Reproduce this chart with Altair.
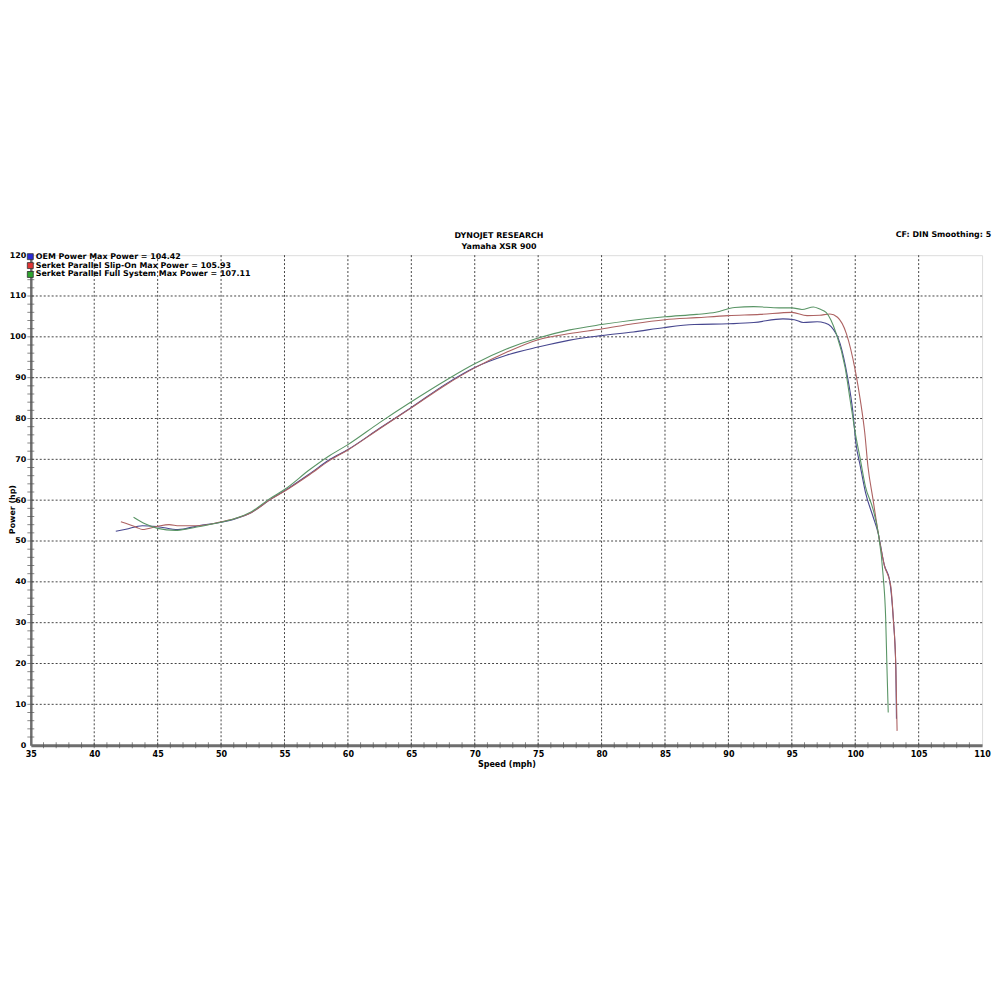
import altair as alt
import pandas as pd

# ---- data ----
oem_speed = [41.7, 42.5, 43.8, 45.0, 46.6, 48.2, 50.0, 51.1, 52.4, 53.9, 55.0, 57.0, 58.6, 60.0,
             62.5, 65.0, 67.8, 70.0, 72.5, 75.0, 77.5, 80.0, 82.5, 85.0, 87.3, 90.0, 92.0, 94.3,
             95.2, 95.9, 97.0, 97.6, 98.1, 98.8, 99.4, 99.8, 100.05, 100.4, 100.8, 101.4, 101.8,
             102.3, 102.7, 103.0, 103.2, 103.25]
oem_power = [52.4, 52.9, 53.75, 53.5, 52.8, 53.75, 54.6, 55.4, 57.0, 60.2, 62.3, 66.5, 70.0, 72.4,
             77.6, 82.7, 88.6, 92.5, 95.5, 97.5, 99.2, 100.3, 101.2, 102.3, 103.0, 103.2, 103.5, 104.4,
             104.2, 103.5, 103.7, 103.4, 102.5, 98.4, 90.0, 82.0, 74.0, 68.3, 62.0, 56.0, 52.0,
             44.0, 40.5, 31.0, 19.0, 6.5]

slip_speed = [42.1, 43.3, 43.8, 45.0, 45.9, 46.7, 48.2, 50.0, 51.1, 52.4, 53.9, 55.0, 57.0, 58.6,
              60.0, 62.5, 65.0, 67.8, 70.0, 72.5, 75.0, 77.5, 80.0, 82.5, 85.0, 87.5, 90.0, 92.5,
              95.0, 96.2, 97.2, 98.0, 98.6, 99.3, 100.0, 100.4, 100.75, 101.0, 101.4, 101.8, 102.3,
              102.8, 103.0, 103.2, 103.3]
slip_power = [54.7, 53.4, 52.8, 53.6, 54.0, 53.75, 53.75, 54.7, 55.5, 57.0, 60.2, 62.2, 66.3, 69.8,
              72.3, 77.5, 82.6, 88.4, 92.4, 96.2, 99.3, 100.8, 101.9, 103.2, 104.2, 104.7, 105.2, 105.5,
              106.0, 105.2, 105.3, 105.6, 104.8, 100.8, 91.8, 84.5, 76.5, 68.3, 60.2, 52.2, 44.0,
              39.0, 31.0, 19.0, 3.5]

full_speed = [43.1, 44.0, 45.0, 46.4, 47.4, 48.2, 50.0, 51.1, 52.4, 53.9, 55.0, 57.0, 58.6, 60.0,
              62.5, 65.0, 67.8, 70.0, 72.5, 75.0, 77.5, 80.0, 82.3, 85.0, 87.5, 89.0, 90.5, 92.0,
              94.0, 95.0, 95.8, 96.7, 97.2, 97.7, 98.5, 99.2, 99.6, 100.0, 100.4, 100.8, 101.4,
              101.8, 102.2, 102.4, 102.5, 102.6]
full_power = [55.8, 54.2, 53.1, 52.6, 53.0, 53.5, 54.6, 55.5, 57.2, 60.5, 62.6, 67.5, 71.0, 73.6,
              79.0, 84.1, 89.5, 93.4, 97.0, 99.7, 101.7, 103.0, 104.0, 104.9, 105.5, 106.0, 107.2, 107.4,
              107.1, 107.1, 106.7, 107.3, 106.8, 106.0, 100.8, 92.5, 84.5, 76.5, 70.0, 63.4, 57.8,
              52.2, 41.5, 31.0, 19.0, 8.0]

series_names = ["OEM Power", "Serket Parallel Slip-On", "Serket Parallel Full System"]
max_power = ["104.42", "105.93", "107.11"]
line_colors = ["#47478f", "#ad6262", "#5a9566"]
legend_colors = ["#2b2bd6", "#e03434", "#2ea32e"]

x_ticks = list(range(35, 111, 5))
y_ticks = list(range(0, 121, 10))
x_grid = list(range(40, 110, 5))
y_grid = list(range(10, 120, 10))
x_minor = list(range(36, 110))
y_minor = list(range(2, 120, 2))

title_lines = ["DYNOJET RESEARCH", "Yamaha XSR 900"]
corner_text = "CF: DIN  Smoothing: 5"

# ---- tables ----
rows = []
for name, sp, pw in zip(series_names, [oem_speed, slip_speed, full_speed],
                        [oem_power, slip_power, full_power]):
    for i, (s, p) in enumerate(zip(sp, pw)):
        rows.append({"series": name, "speed": s, "power": p, "i": i})
df = pd.DataFrame(rows)

leg = pd.DataFrame({
    "label": [f"{n} Max Power = {m}" for n, m in zip(series_names, max_power)],
    "hex": legend_colors,
    "row": [0, 1, 2],
})

heads = pd.DataFrame({"t": title_lines, "row": [0, 1]})

xs = alt.Scale(domain=[35, 110], nice=False, zero=False)
ys = alt.Scale(domain=[0, 120], nice=False, zero=True)
FONT = "DejaVu Sans"
NARROW = "DejaVu Sans Condensed, Liberation Sans Narrow, Arial Narrow, DejaVu Sans"

x_axis = alt.Axis(values=x_ticks, grid=False, ticks=False, title="Speed (mph)",
                  domainColor="#6e6e6e", domainWidth=3,
                  labelFont=NARROW, labelFontWeight="bold",
                  labelFontSize=9, labelColor="#000", labelPadding=4,
                  labelFlush=False,
                  titleFont=NARROW, titleFontSize=9, titleFontWeight="bold",
                  titleColor="#000", titlePadding=1)
y_axis = alt.Axis(values=y_ticks, grid=False, ticks=False, title="Power (hp)",
                  domainColor="#6e6e6e", domainWidth=2.5,
                  labelFont=FONT, labelFontWeight="bold", labelFontSize=8,
                  labelColor="#000", labelPadding=5, labelFlush=False,
                  titleFont=FONT, titleFontSize=8, titleFontWeight="bold",
                  titleColor="#000", titleX=-14, titleY=256)

lines = alt.Chart(df).mark_line(strokeWidth=1.1, interpolate="monotone").encode(
    x=alt.X("speed:Q", scale=xs, axis=x_axis),
    y=alt.Y("power:Q", scale=ys, axis=y_axis),
    color=alt.Color("series:N", scale=alt.Scale(domain=series_names, range=line_colors),
                    legend=None),
    order="i:Q",
)

xgrid = alt.Chart(pd.DataFrame({"speed": x_grid})).mark_rule(
    color="#222", strokeWidth=1, strokeDash=[2, 2], opacity=0.85
).encode(x=alt.X("speed:Q", scale=xs, axis=x_axis))

ygrid = alt.Chart(pd.DataFrame({"power": y_grid})).mark_rule(
    color="#222", strokeWidth=1, strokeDash=[2, 2], opacity=0.85
).encode(y=alt.Y("power:Q", scale=ys, axis=y_axis))

xminor = alt.Chart(pd.DataFrame({"speed": x_minor})).mark_tick(
    color="#555", thickness=1, size=6
).encode(x=alt.X("speed:Q", scale=xs, axis=x_axis), y=alt.value(494))

yminor = alt.Chart(pd.DataFrame({"power": y_minor})).mark_tick(
    color="#555", thickness=1, size=7
).encode(y=alt.Y("power:Q", scale=ys, axis=y_axis), x=alt.value(0))

leg_sq = alt.Chart(leg).transform_calculate(py="datum.row * 9 + 1.5").mark_square(
    size=36, opacity=1, stroke="#333", strokeWidth=0.8
).encode(
    x=alt.value(-0.5),
    y=alt.Y("py:Q", scale=None),
    fill=alt.Fill("hex:N", scale=None),
)

leg_tx = alt.Chart(leg).transform_calculate(py="datum.row * 9 + 1.5").mark_text(
    align="left", baseline="middle", font=FONT, fontSize=8, fontWeight="bold", color="#000"
).encode(
    x=alt.value(5),
    y=alt.Y("py:Q", scale=None),
    text="label:N",
)

head_tx = alt.Chart(heads).transform_calculate(py="datum.row * 11 - 19").mark_text(
    align="center", baseline="middle", font=FONT, fontSize=8, fontWeight="bold", color="#000"
).encode(
    x=alt.value(472),
    y=alt.Y("py:Q", scale=None),
    text="t:N",
)

corner = alt.Chart(pd.DataFrame({"t": [corner_text]})).mark_text(
    align="left", baseline="middle", font=FONT, fontSize=8, fontWeight="bold", color="#000"
).encode(x=alt.value(872), y=alt.value(-20), text="t:N")

chart = alt.layer(
    xgrid, ygrid, lines, xminor, yminor, leg_sq, leg_tx, head_tx, corner
).properties(
    width=959,
    height=494,
    autosize=alt.AutoSizeParams(type="none"),
    padding={"left": 23, "top": 246, "right": 10, "bottom": 40},
).configure_view(
    stroke="#858585", strokeWidth=1.5, cornerRadius=5
).configure(background="white")

chart.save("out.html", embed_options={"renderer": "svg", "actions": False})
